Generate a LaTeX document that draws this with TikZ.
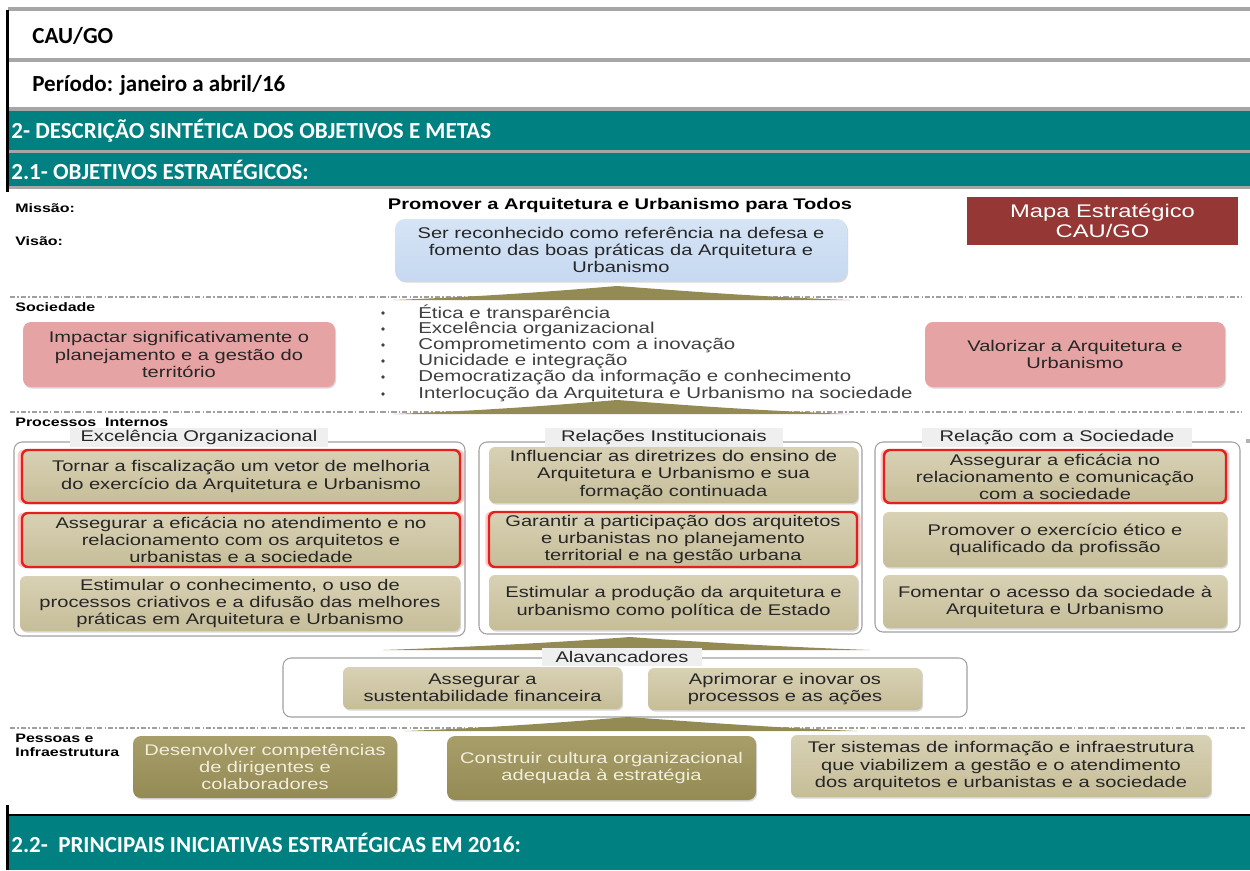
\documentclass[tikz,border=0pt]{standalone}
\usepackage{fontspec}
\setmainfont{Liberation Sans}
\newfontfamily\hfont{Carlito}
\newfontfamily\dfont[FakeStretch=1.3]{Liberation Sans}
\usetikzlibrary{shadows}
\definecolor{teal1}{HTML}{008080}
\definecolor{rulegray}{HTML}{A6A6A6}
\definecolor{tanb}{HTML}{C6BD98}
\definecolor{tanl}{HTML}{D8D1B4}
\definecolor{oliveb}{HTML}{948A54}
\definecolor{olivel}{HTML}{A89E6A}
\definecolor{pinkb}{HTML}{E6A3A3}
\definecolor{blueb}{HTML}{C6D9F1}
\definecolor{bluel}{HTML}{D6E4F5}
\definecolor{mapred}{HTML}{953735}
\definecolor{redb}{HTML}{E3201C}
\definecolor{framegray}{HTML}{A0A0A0}
\definecolor{labelbg}{HTML}{EFEFEF}
\definecolor{lighttxt}{HTML}{F2EEDC}
\definecolor{listtxt}{HTML}{404040}
\newcommand\bx[7]{\node[#1, minimum width={(#4-#2)*0.02cm}, minimum height={(#5-#3)*0.02cm}] (#6) at ({(#2+#4)/2},{(#3+#5)/2}) {#7};}
\tikzset{
  htext/.style={font=\hfont\bfseries\fontsize{13.1}{15}\selectfont, inner sep=0pt},
  dtext/.style={font=\dfont\fontsize{8.8}{9.7}\selectfont, align=center, inner sep=0pt, text=black!85},
  dbold/.style={font=\dfont\bfseries\fontsize{7}{8}\selectfont, align=left, inner sep=0pt, anchor=west},
  sh/.style={drop shadow={opacity=0.3, shadow xshift=0.6pt, shadow yshift=-0.9pt}},
  tanbox/.style={dtext, rounded corners=0.12cm, top color=tanl, bottom color=tanb, sh},
  redbox/.style={tanbox, draw=redb, line width=1.4pt, drop shadow={opacity=0.35, color=red!60, shadow xshift=0pt, shadow yshift=0pt, shadow scale=1.02}},
  pinkbox/.style={dtext, rounded corners=0.16cm, fill=pinkb, sh},
  olivebox/.style={dtext, rounded corners=0.16cm, top color=olivel, bottom color=oliveb, text=lighttxt, sh},
  frame/.style={draw=framegray, line width=0.6pt, rounded corners=0.16cm, fill=white},
  flabel/.style={dtext, fill=labelbg, minimum height=0.38cm},
  dashline/.style={draw=gray!75, line width=0.6pt, dash pattern=on 3pt off 1.2pt on 0.8pt off 1.2pt},
  wedge/.style={fill=oliveb},
  listtext/.style={font=\dfont\fontsize{8.95}{9.7}\selectfont, inner sep=0pt, text=listtxt}
}
\begin{document}
\begin{tikzpicture}[x=0.02cm,y=-0.02cm]
\useasboundingbox (0,0) rectangle (1250,870);
\fill[white] (0,0) rectangle (1250,870);
% ---------- header ----------
\fill[rulegray] (8,7) rectangle (1250,11);
\fill[rulegray] (8,58) rectangle (1250,62);
\fill[rulegray] (8,107) rectangle (1250,111);
\fill[teal1] (9,111) rectangle (1250,150);
\fill[rulegray] (8,150) rectangle (1250,153);
\fill[teal1] (9,153) rectangle (1250,186);
\fill[rulegray] (8,186) rectangle (1250,189);
\fill[black] (6,10) rectangle (9,192);
\node[htext, anchor=west] (cau) at (32,36) {CAU/GO};
\node[htext, anchor=west] (per) at (32,85) {Período: janeiro a abril/16};
\node[htext, text=white, anchor=west] (s2) at (11,131) {2- DESCRIÇÃO SINTÉTICA DOS OBJETIVOS E METAS};
\node[htext, text=white, anchor=west] (s21) at (11,170) {2.1- OBJETIVOS ESTRATÉGICOS:};
% ---------- bottom bar ----------
\fill[teal1] (9,816) rectangle (1250,870);
\fill[black] (6,805) rectangle (9,870);
\fill[black] (6,814) rectangle (1250,816);
\node[htext, text=white, anchor=west] (s22) at (11,843) {2.2-\ \ PRINCIPAIS INICIATIVAS ESTRATÉGICAS EM 2016:};
% ---------- mission / vision ----------
\node[dbold] (miss) at (15,208) {Missão:};
\node[dbold] (vis) at (15,241) {Visão:};
\node[dtext, font=\dfont\bfseries\fontsize{8.8}{9.7}\selectfont, text=black] (prom) at (620,205) {Promover a Arquitetura e Urbanismo para Todos};
\bx{dtext, rounded corners=0.2cm, top color=bluel, bottom color=blueb, sh}{395}{219}{847}{281}{visao}{Ser reconhecido como referência na defesa e\\fomento das boas práticas da Arquitetura e\\Urbanismo}
\bx{dtext, fill=mapred, text=white, font=\dfont\fontsize{10.4}{11.2}\selectfont}{967}{197}{1238}{245}{mapa}{Mapa Estratégico\\CAU/GO}
% ---------- dashed separators & wedges ----------
\coordinate (d1a) at (10,297); \coordinate (d1b) at (1242,297);
\draw[dashline] (d1a) -- (d1b);
\fill[wedge] (393,300) .. controls (500,296) and (580,289) .. (617,286) .. controls (660,289) and (740,296) .. (850,300) -- cycle;
\coordinate (d2a) at (10,412); \coordinate (d2b) at (1242,412);
\draw[dashline] (d2a) -- (d2b);
\fill[wedge] (393,414) .. controls (500,410) and (580,403) .. (617,400) .. controls (660,403) and (740,410) .. (850,414) -- cycle;
\coordinate (d3a) at (10,728); \coordinate (d3b) at (1245,728);
\draw[dashline] (d3a) -- (d3b);
% ---------- Sociedade ----------
\node[dbold] (soc) at (15,307) {Sociedade};
\bx{pinkbox}{23}{322}{335}{387}{impactar}{Impactar significativamente o\\planejamento e a gestão do\\território}
\bx{pinkbox}{925}{322}{1225}{387}{valorizar}{Valorizar a Arquitetura e\\Urbanismo}
\foreach \yy/\tt [count=\i] in {313/Ética e transparência, 329/Excelência organizacional, 345/Comprometimento com a inovação, 361/Unicidade e integração, 377/Democratização da informação e conhecimento, 394/Interlocução da Arquitetura e Urbanismo na sociedade}{
  \fill[listtxt] (383,\yy) circle (1.8);
  \node[listtext, anchor=west] (v\i) at (418,\yy) {\tt};
}
% ---------- Processos internos ----------
\node[dbold] (proc) at (15,422) {Processos\ \ Internos};
\bx{frame}{14}{442}{465}{636}{exc}{}
\bx{frame}{479}{442}{862}{634}{rel}{}
\bx{frame}{875}{442}{1240}{632}{soc2}{}
\bx{flabel}{70}{428}{328}{447}{excl}{Excelência Organizacional}
\bx{flabel}{545}{428}{783}{447}{rell}{Relações Institucionais}
\bx{flabel}{922}{428}{1192}{447}{socl}{Relação com a Sociedade}
\fill[gray!60] (1246,439) rectangle (1250,443);
\bx{redbox}{22}{450}{460}{503}{e1}{Tornar a fiscalização um vetor de melhoria\\do exercício da Arquitetura e Urbanismo}
\bx{redbox}{22}{513}{460}{567}{e2}{Assegurar a eficácia no atendimento e no\\relacionamento com os arquitetos e\\urbanistas e a sociedade}
\bx{tanbox}{20}{576}{460}{631}{e3}{Estimular o conhecimento, o uso de\\processos criativos e a difusão das melhores\\práticas em Arquitetura e Urbanismo}
\bx{tanbox}{489}{447}{858}{503}{r1}{Influenciar as diretrizes do ensino de\\Arquitetura e Urbanismo e sua\\formação continuada}
\bx{redbox}{489}{512}{857}{567}{r2}{Garantir a participação dos arquitetos\\e urbanistas no planejamento\\territorial e na gestão urbana}
\bx{tanbox}{489}{575}{858}{630}{r3}{Estimular a produção da arquitetura e\\urbanismo como política de Estado}
\bx{redbox}{884}{450}{1226}{503}{s1}{Assegurar a eficácia no\\relacionamento e comunicação\\com a sociedade}
\bx{tanbox}{883}{512}{1227}{567}{s2b}{Promover o exercício ético e\\qualificado da profissão}
\bx{tanbox}{883}{575}{1227}{628}{s3}{Fomentar o acesso da sociedade à\\Arquitetura e Urbanismo}
% ---------- Alavancadores ----------
\fill[wedge] (383,650) .. controls (500,646) and (590,640) .. (630,637) .. controls (670,640) and (760,646) .. (870,650) -- cycle;
\bx{frame}{283}{658}{967}{717}{alav}{}
\bx{flabel}{542}{648}{702}{666}{alavl}{Alavancadores}
\bx{tanbox}{343}{667}{622}{709}{a1}{Assegurar a\\sustentabilidade financeira}
\bx{tanbox}{648}{668}{922}{710}{a2}{Aprimorar e inovar os\\processos e as ações}
\fill[wedge] (405,731) .. controls (510,727) and (590,720) .. (628,717) .. controls (670,720) and (760,727) .. (858,731) -- cycle;
% ---------- Pessoas e infraestrutura ----------
\node[dbold] (pes) at (15,738) {Pessoas e};
\node[dbold] (inf) at (15,752) {Infraestrutura};
\bx{olivebox}{133}{736}{397}{798}{p1}{Desenvolver competências\\de dirigentes e\\colaboradores}
\bx{olivebox}{447}{736}{756}{800}{p2}{Construir cultura organizacional\\adequada à estratégia}
\bx{tanbox}{791}{735}{1211}{797}{p3}{Ter sistemas de informação e infraestrutura\\que viabilizem a gestão e o atendimento\\dos arquitetos e urbanistas e a sociedade}
\end{tikzpicture}
\end{document}
